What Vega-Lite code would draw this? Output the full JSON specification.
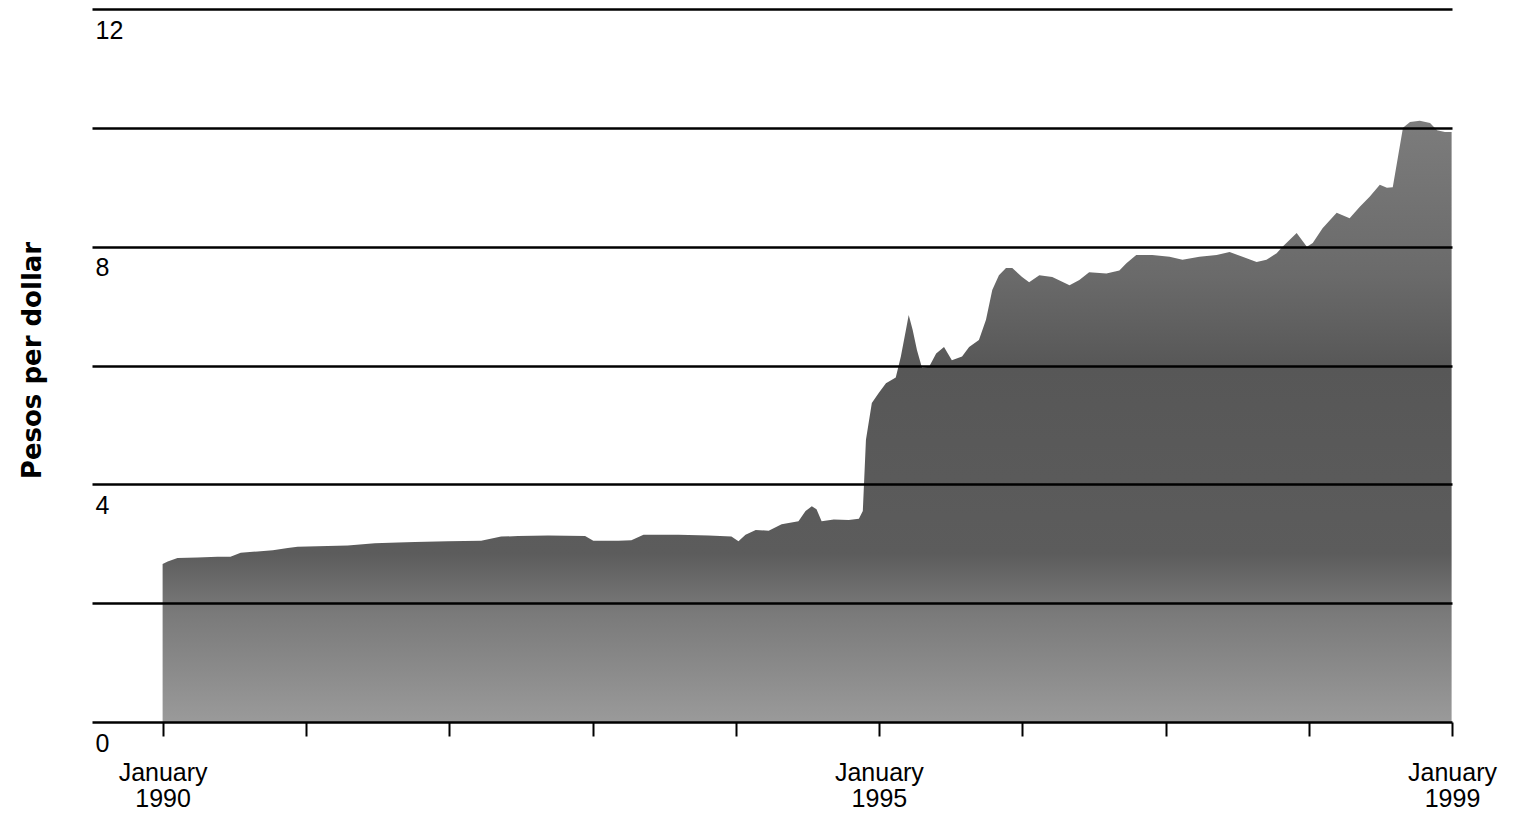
{
  "$schema": "https://vega.github.io/schema/vega-lite/v6.json",
  "width": 1360,
  "height": 713,
  "autosize": {"type": "none"},
  "padding": {"left": 92, "top": 9, "right": 68, "bottom": 93},
  "background": "white",
  "config": {"view": {"stroke": null}, "font": "Liberation Sans"},
  "data": {
    "values": [
      {"date": "1990-01-01", "pesos": 2.66},
      {"date": "1990-01-14", "pesos": 2.70},
      {"date": "1990-02-08", "pesos": 2.76},
      {"date": "1990-03-31", "pesos": 2.77},
      {"date": "1990-05-21", "pesos": 2.78},
      {"date": "1990-06-23", "pesos": 2.78},
      {"date": "1990-07-19", "pesos": 2.85},
      {"date": "1990-08-31", "pesos": 2.87},
      {"date": "1990-10-09", "pesos": 2.89},
      {"date": "1990-11-16", "pesos": 2.93},
      {"date": "1990-12-11", "pesos": 2.95},
      {"date": "1991-01-31", "pesos": 2.96},
      {"date": "1991-04-18", "pesos": 2.97},
      {"date": "1991-06-26", "pesos": 3.01},
      {"date": "1991-08-24", "pesos": 3.02},
      {"date": "1991-10-06", "pesos": 3.03},
      {"date": "1991-12-29", "pesos": 3.04},
      {"date": "1992-03-23", "pesos": 3.05},
      {"date": "1992-05-13", "pesos": 3.12},
      {"date": "1992-06-25", "pesos": 3.13},
      {"date": "1992-09-10", "pesos": 3.14},
      {"date": "1992-12-13", "pesos": 3.13},
      {"date": "1993-01-03", "pesos": 3.05},
      {"date": "1993-03-08", "pesos": 3.05},
      {"date": "1993-04-10", "pesos": 3.06},
      {"date": "1993-05-11", "pesos": 3.15},
      {"date": "1993-08-08", "pesos": 3.15},
      {"date": "1993-10-24", "pesos": 3.14},
      {"date": "1993-12-21", "pesos": 3.12},
      {"date": "1994-01-08", "pesos": 3.04},
      {"date": "1994-01-26", "pesos": 3.15},
      {"date": "1994-02-21", "pesos": 3.23},
      {"date": "1994-03-26", "pesos": 3.22},
      {"date": "1994-04-28", "pesos": 3.33},
      {"date": "1994-06-10", "pesos": 3.38},
      {"date": "1994-06-28", "pesos": 3.55},
      {"date": "1994-07-14", "pesos": 3.63},
      {"date": "1994-07-26", "pesos": 3.58},
      {"date": "1994-08-08", "pesos": 3.38},
      {"date": "1994-09-08", "pesos": 3.41},
      {"date": "1994-10-16", "pesos": 3.40},
      {"date": "1994-11-11", "pesos": 3.42},
      {"date": "1994-11-21", "pesos": 3.55},
      {"date": "1994-11-29", "pesos": 4.75},
      {"date": "1994-12-14", "pesos": 5.37},
      {"date": "1995-01-01", "pesos": 5.54},
      {"date": "1995-01-19", "pesos": 5.70},
      {"date": "1995-02-13", "pesos": 5.80},
      {"date": "1995-02-26", "pesos": 6.15},
      {"date": "1995-03-11", "pesos": 6.60},
      {"date": "1995-03-18", "pesos": 6.85},
      {"date": "1995-03-28", "pesos": 6.60},
      {"date": "1995-04-08", "pesos": 6.26},
      {"date": "1995-04-21", "pesos": 5.96},
      {"date": "1995-05-09", "pesos": 5.98},
      {"date": "1995-05-27", "pesos": 6.20},
      {"date": "1995-06-16", "pesos": 6.31},
      {"date": "1995-07-06", "pesos": 6.09},
      {"date": "1995-08-01", "pesos": 6.15},
      {"date": "1995-08-19", "pesos": 6.31},
      {"date": "1995-09-13", "pesos": 6.43},
      {"date": "1995-10-01", "pesos": 6.77},
      {"date": "1995-10-17", "pesos": 7.27},
      {"date": "1995-11-03", "pesos": 7.52},
      {"date": "1995-11-21", "pesos": 7.64},
      {"date": "1995-12-07", "pesos": 7.64},
      {"date": "1996-01-01", "pesos": 7.49},
      {"date": "1996-01-19", "pesos": 7.40},
      {"date": "1996-02-14", "pesos": 7.52},
      {"date": "1996-03-18", "pesos": 7.49},
      {"date": "1996-05-01", "pesos": 7.35},
      {"date": "1996-05-26", "pesos": 7.44},
      {"date": "1996-06-20", "pesos": 7.57},
      {"date": "1996-08-03", "pesos": 7.55},
      {"date": "1996-09-05", "pesos": 7.60},
      {"date": "1996-09-23", "pesos": 7.72},
      {"date": "1996-10-18", "pesos": 7.86},
      {"date": "1996-11-28", "pesos": 7.86},
      {"date": "1997-01-11", "pesos": 7.83},
      {"date": "1997-02-13", "pesos": 7.78},
      {"date": "1997-03-28", "pesos": 7.83},
      {"date": "1997-05-11", "pesos": 7.86},
      {"date": "1997-06-13", "pesos": 7.91},
      {"date": "1997-07-16", "pesos": 7.83},
      {"date": "1997-08-21", "pesos": 7.74},
      {"date": "1997-09-15", "pesos": 7.78},
      {"date": "1997-10-11", "pesos": 7.89},
      {"date": "1997-10-26", "pesos": 8.00},
      {"date": "1997-12-01", "pesos": 8.23},
      {"date": "1997-12-27", "pesos": 8.00},
      {"date": "1998-01-11", "pesos": 8.06},
      {"date": "1998-02-05", "pesos": 8.31},
      {"date": "1998-03-13", "pesos": 8.57},
      {"date": "1998-04-15", "pesos": 8.48},
      {"date": "1998-05-11", "pesos": 8.67},
      {"date": "1998-06-05", "pesos": 8.84},
      {"date": "1998-07-01", "pesos": 9.04},
      {"date": "1998-07-19", "pesos": 8.99},
      {"date": "1998-08-03", "pesos": 9.00},
      {"date": "1998-08-16", "pesos": 9.50},
      {"date": "1998-08-29", "pesos": 10.00},
      {"date": "1998-09-16", "pesos": 10.10},
      {"date": "1998-10-11", "pesos": 10.12},
      {"date": "1998-11-06", "pesos": 10.08},
      {"date": "1998-11-24", "pesos": 9.96},
      {"date": "1998-12-14", "pesos": 9.93},
      {"date": "1998-12-31", "pesos": 9.93}
    ]
  },
  "mark": {
    "type": "area",
    "interpolate": "linear",
    "color": {
      "gradient": "linear",
      "x1": 0, "y1": 0, "x2": 0, "y2": 1,
      "stops": [
        {"offset": 0, "color": "#7c7c7c"},
        {"offset": 0.26, "color": "#6a6a6a"},
        {"offset": 0.41, "color": "#575757"},
        {"offset": 0.72, "color": "#5c5c5c"},
        {"offset": 0.82, "color": "#7a7a7a"},
        {"offset": 1, "color": "#9a9a9a"}
      ]
    }
  },
  "encoding": {
    "x": {
      "field": "date",
      "type": "temporal",
      "scale": {
        "type": "utc",
        "domain": [
          {"year": 1989, "month": 7, "date": 5, "utc": true},
          {"year": 1999, "month": 1, "date": 1, "utc": true}
        ]
      },
      "axis": {
        "title": null,
        "grid": false,
        "domain": false,
        "ticks": true,
        "tickSize": 14,
        "tickWidth": 2,
        "tickColor": "black",
        "tickCount": {"interval": "year", "step": 1},
        "labelExpr": "indexof([1990, 1995, 1999], utcyear(datum.value)) >= 0 ? ['January', '' + utcyear(datum.value)] : ''",
        "labelFont": "Liberation Sans",
        "labelFontSize": 25,
        "labelColor": "black",
        "labelAlign": "center",
        "labelBaseline": "top",
        "labelPadding": 24,
        "labelLineHeight": 26,
        "labelFlush": false,
        "labelOverlap": false,
        "labelBound": false
      }
    },
    "y": {
      "field": "pesos",
      "type": "quantitative",
      "scale": {"domain": [0, 12], "nice": false, "zero": true},
      "axis": {
        "values": [0, 2, 4, 6, 8, 10, 12],
        "grid": true,
        "gridColor": "black",
        "gridWidth": 2.5,
        "gridOpacity": 1,
        "domain": false,
        "ticks": false,
        "tickSize": 0,
        "labelExpr": "datum.value % 4 == 0 ? datum.label : ''",
        "labelFont": "Liberation Sans",
        "labelFontSize": 25,
        "labelColor": "black",
        "labelAlign": "left",
        "labelBaseline": "top",
        "labelPadding": -3,
        "labelOffset": 9,
        "labelFlush": false,
        "labelOverlap": false,
        "labelBound": false,
        "title": "Pesos per dollar",
        "titleFont": "DejaVu Sans",
        "titleFontWeight": "bold",
        "titleFontSize": 26,
        "titleColor": "black",
        "titleAngle": 270,
        "titleAlign": "center",
        "titleBaseline": "middle",
        "titleX": -60,
        "titleY": 351,
        "zindex": 1
      }
    }
  }
}
